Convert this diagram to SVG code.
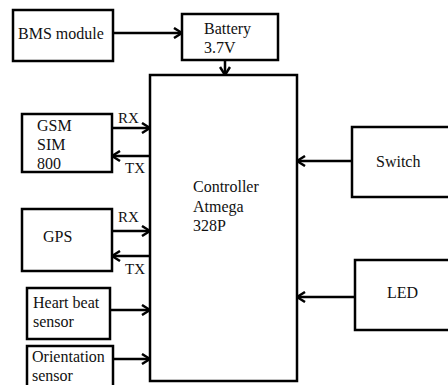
<svg xmlns="http://www.w3.org/2000/svg" width="448" height="385" viewBox="0 0 448 385">
  <defs>
    <style>
      .box { fill: #ffffff; stroke: #000000; stroke-width: 2.5; }
      text { font-family: 'Liberation Serif', 'DejaVu Serif', serif; fill: #111111; }
      .lbl { font-size: 16px; }
      .small { font-size: 15px; }
      .wire { fill: none; stroke: #000000; stroke-width: 2.5; }
    </style>
    <marker id="arr" viewBox="0 0 10 12" refX="9" refY="6" markerWidth="10" markerHeight="12" markerUnits="userSpaceOnUse" orient="auto">
      <path d="M1,1 L9,6 L1,11" fill="none" stroke="#000000" stroke-width="2.5"/>
    </marker>
  </defs>
  <rect width="448" height="385" fill="#ffffff"/>

  <g id="bms">
    <rect class="box" x="13" y="10" width="100" height="51"/>
    <text class="lbl" x="18" y="39" font-family="Liberation Serif">BMS module</text>
  </g>
  <g id="battery">
    <rect class="box" x="182" y="14" width="96" height="46"/>
    <text class="lbl" x="204" y="34">Battery</text>
    <text class="lbl" x="204" y="53">3.7V</text>
  </g>
  <g id="controller">
    <rect class="box" x="150" y="75" width="147" height="306"/>
    <text class="lbl" x="193" y="192">Controller</text>
    <text class="lbl" x="193" y="212">Atmega</text>
    <text class="lbl" x="193" y="231">328P</text>
  </g>
  <g id="gsm">
    <rect class="box" x="22" y="114" width="90" height="58"/>
    <text class="lbl" x="37" y="131">GSM</text>
    <text class="lbl" x="37" y="150">SIM</text>
    <text class="lbl" x="37" y="169">800</text>
  </g>
  <g id="gps">
    <rect class="box" x="22" y="209" width="90" height="62"/>
    <text class="lbl" x="43" y="242">GPS</text>
  </g>
  <g id="heartbeat">
    <rect class="box" x="27" y="288" width="83" height="51"/>
    <text class="lbl" x="33" y="308">Heart beat</text>
    <text class="lbl" x="33" y="327">sensor</text>
  </g>
  <g id="orientation">
    <rect class="box" x="27" y="346" width="86" height="50"/>
    <text class="lbl" x="32" y="362">Orientation</text>
    <text class="lbl" x="32" y="381">sensor</text>
  </g>
  <g id="switch">
    <rect class="box" x="352" y="127" width="110" height="70"/>
    <text class="lbl" x="376" y="167">Switch</text>
  </g>
  <g id="led">
    <rect class="box" x="355" y="260" width="110" height="70"/>
    <text class="lbl" x="387" y="298">LED</text>
  </g>

  <g id="connectors">
    <line class="wire" x1="113" y1="33" x2="182" y2="33" marker-end="url(#arr)"/>
    <line class="wire" x1="225" y1="60" x2="225" y2="75" marker-end="url(#arr)"/>
    <line class="wire" x1="112" y1="128" x2="150" y2="128" marker-end="url(#arr)"/>
    <line class="wire" x1="150" y1="156" x2="112" y2="156" marker-end="url(#arr)"/>
    <line class="wire" x1="112" y1="231" x2="150" y2="231" marker-end="url(#arr)"/>
    <line class="wire" x1="150" y1="256" x2="112" y2="256" marker-end="url(#arr)"/>
    <line class="wire" x1="110" y1="310" x2="150" y2="310" marker-end="url(#arr)"/>
    <line class="wire" x1="113" y1="359" x2="150" y2="359" marker-end="url(#arr)"/>
    <line class="wire" x1="352" y1="161" x2="297" y2="161" marker-end="url(#arr)"/>
    <line class="wire" x1="355" y1="297" x2="297" y2="297" marker-end="url(#arr)"/>
    <text class="small" x="118" y="123">RX</text>
    <text class="small" x="125" y="173">TX</text>
    <text class="small" x="118" y="222">RX</text>
    <text class="small" x="125" y="274">TX</text>
  </g>
</svg>
